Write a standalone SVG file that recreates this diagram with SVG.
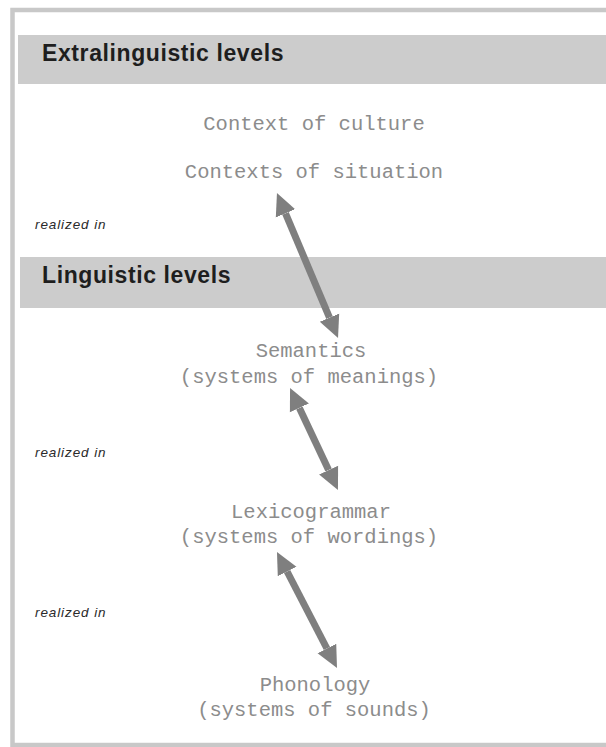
<svg xmlns="http://www.w3.org/2000/svg" width="606" height="747" viewBox="0 0 606 747">
<style>
.band{fill:#cccccc}
.head{font-family:"Liberation Sans",Arial,sans-serif;font-size:23px;font-weight:bold;fill:#1e1e1e;letter-spacing:0.6px}
.mono{font-family:"Liberation Mono","Courier New",monospace;font-size:20.5px;fill:#8c8c8c;text-anchor:middle}
.ri{font-family:"Liberation Sans",Arial,sans-serif;font-size:13.5px;font-style:italic;fill:#2a2a2a;letter-spacing:0.9px}
.arr{stroke:#7f7f7f;stroke-width:7;fill:none}
</style>
<defs>
<marker id="ah" markerUnits="userSpaceOnUse" markerWidth="24" markerHeight="24" viewBox="0 -12 24 24" refX="0" refY="0" orient="auto-start-reverse">
<path d="M0,-10.5 L22,0 L0,10.5 z" fill="#7f7f7f"/>
</marker>
</defs>
<rect x="0" y="0" width="606" height="747" fill="#ffffff"/>
<rect id="frame" x="12.5" y="10" width="640" height="735" fill="#ffffff" stroke="#c8c8c8" stroke-width="4.5"/>
<g id="extralinguistic">
<rect class="band" x="18" y="35" width="600" height="49"/>
<text class="head" x="42" y="61">Extralinguistic levels</text>
</g>
<g id="culture"><text class="mono" x="314" y="130">Context of culture</text></g>
<g id="situation"><text class="mono" x="314" y="178">Contexts of situation</text></g>
<g id="realized1"><text class="ri" x="35" y="229">realized in</text></g>
<g id="linguistic">
<rect class="band" x="20" y="257" width="600" height="51"/>
<text class="head" x="42" y="283">Linguistic levels</text>
</g>
<g id="semantics">
<text class="mono" x="311" y="357">Semantics</text>
<text class="mono" x="309" y="383">(systems of meanings)</text>
</g>
<g id="realized2"><text class="ri" x="35" y="457">realized in</text></g>
<g id="lexicogrammar">
<text class="mono" x="311" y="518">Lexicogrammar</text>
<text class="mono" x="309" y="543">(systems of wordings)</text>
</g>
<g id="realized3"><text class="ri" x="35" y="617">realized in</text></g>
<g id="phonology">
<text class="mono" x="315" y="691">Phonology</text>
<text class="mono" x="314" y="716">(systems of sounds)</text>
</g>
<g id="connectors">
<line class="arr" x1="285.5" y1="213.3" x2="329.5" y2="317.7" marker-start="url(#ah)" marker-end="url(#ah)"/>
<line class="arr" x1="299.4" y1="407.9" x2="328.6" y2="470.1" marker-start="url(#ah)" marker-end="url(#ah)"/>
<line class="arr" x1="287.1" y1="571.5" x2="326.9" y2="648.5" marker-start="url(#ah)" marker-end="url(#ah)"/>
</g>
</svg>
